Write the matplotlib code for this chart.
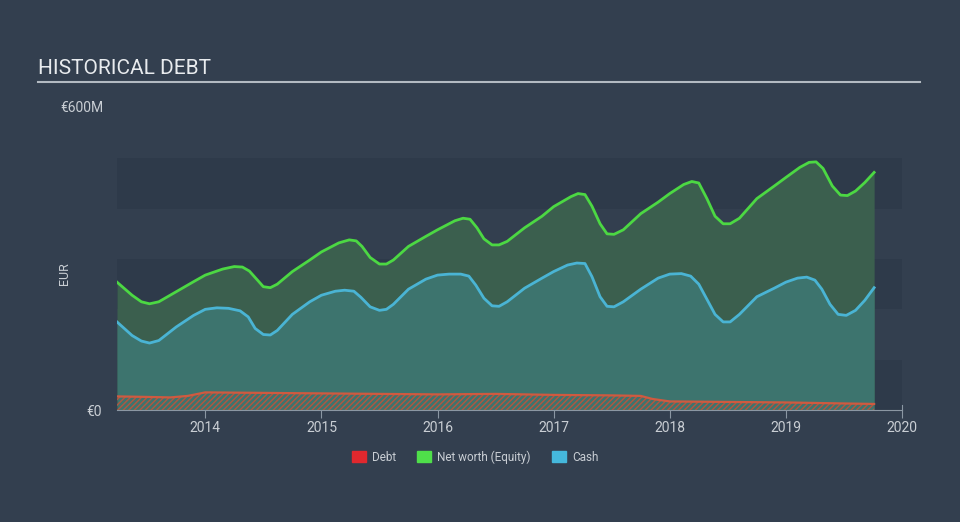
import numpy as np
import matplotlib
matplotlib.use("Agg")
import matplotlib.pyplot as plt
from matplotlib.patches import Patch

plt.rcParams['font.family'] = ['Roboto', 'DejaVu Sans']

# decimal years and values in EUR millions
eq_t = [2013.24, 2013.37, 2013.45, 2013.52, 2013.6, 2013.75, 2013.9, 2014.0, 2014.15, 2014.25,
        2014.32, 2014.38, 2014.45, 2014.5, 2014.56, 2014.62, 2014.75, 2014.9, 2015.0, 2015.15,
        2015.24, 2015.3, 2015.35, 2015.42, 2015.5, 2015.56, 2015.62, 2015.75, 2015.9, 2016.0,
        2016.15, 2016.22, 2016.28, 2016.34, 2016.4, 2016.47, 2016.53, 2016.6, 2016.75, 2016.9,
        2017.0, 2017.15, 2017.21, 2017.27, 2017.33, 2017.4, 2017.46, 2017.52, 2017.6, 2017.75,
        2017.9, 2018.0, 2018.12, 2018.19, 2018.25, 2018.32, 2018.39, 2018.46, 2018.52, 2018.6,
        2018.75, 2018.9, 2019.0, 2019.12, 2019.2, 2019.26, 2019.32, 2019.4, 2019.47, 2019.53,
        2019.6, 2019.68, 2019.76]
equity = [254, 228, 215, 211, 215, 235, 255, 268, 280, 285,
          284, 276, 258, 245, 243, 250, 275, 298, 314, 332,
          338, 336, 325, 303, 290, 290, 298, 325, 345, 358,
          376, 381, 379, 362, 340, 328, 328, 335, 362, 385,
          404, 424, 430, 428, 405, 370, 350, 349, 358, 390,
          413, 430, 448, 454, 451, 420, 385, 370, 370, 381,
          420, 445, 462, 482, 492, 493, 480, 445, 427, 426,
          435, 452, 472]

cash_t = [2013.24, 2013.37, 2013.45, 2013.52, 2013.6, 2013.75, 2013.9, 2014.0, 2014.1, 2014.2,
          2014.3, 2014.37, 2014.43, 2014.5, 2014.56, 2014.62, 2014.75, 2014.9, 2015.0, 2015.12,
          2015.2, 2015.28, 2015.34, 2015.42, 2015.5, 2015.56, 2015.62, 2015.75, 2015.9, 2016.0,
          2016.1, 2016.2, 2016.27, 2016.33, 2016.4, 2016.47, 2016.53, 2016.6, 2016.75, 2016.9,
          2017.0, 2017.12, 2017.2, 2017.27, 2017.33, 2017.4, 2017.46, 2017.52, 2017.6, 2017.75,
          2017.9, 2018.0, 2018.1, 2018.18, 2018.25, 2018.32, 2018.39, 2018.46, 2018.52, 2018.6,
          2018.75, 2018.9, 2019.0, 2019.1, 2019.18, 2019.25, 2019.31, 2019.38, 2019.45, 2019.52,
          2019.6, 2019.68, 2019.76]
cash = [175, 148, 137, 133, 138, 165, 188, 200, 203, 202,
        197, 185, 162, 150, 149, 158, 190, 215, 228, 236,
        238, 236, 224, 205, 198, 200, 210, 240, 260, 268,
        270, 270, 266, 248, 222, 207, 206, 215, 242, 262,
        275, 288, 292, 291, 265, 225, 206, 205, 215, 240,
        262, 270, 271, 266, 250, 220, 190, 175, 175, 190,
        225, 242, 254, 262, 264, 258, 240, 210, 190, 188,
        198, 218, 243]

debt_t = [2013.24, 2013.5, 2013.7, 2013.85, 2014.0, 2014.5, 2015.0, 2015.5, 2016.0, 2016.5,
          2017.0, 2017.5, 2017.75, 2017.85, 2018.0, 2018.5, 2019.0, 2019.5, 2019.76]
debt = [27, 26, 25, 28, 35, 34, 33, 32, 31, 32,
        30, 29, 28, 22, 17, 16, 15, 13, 12]

years = [2014, 2015, 2016, 2017, 2018, 2019, 2020]

bg = '#333f4f'
band_dark = '#2e3a4a'
txt = '#c9ced4'

fig = plt.figure(figsize=(9.6, 5.22), dpi=100, facecolor=bg)
ax = fig.add_axes([117/960, 1 - 410/522, (902-117)/960, (410-108)/522])
ax.set_facecolor(bg)

# background bands
for lo in (0, 200, 400):
    ax.axhspan(lo, lo + 100, color=band_dark, zorder=0, lw=0)

ax.fill_between(eq_t, equity, color='#3b5f4e', zorder=1, lw=0)
ax.plot(eq_t, equity, color='#4cd843', lw=2, zorder=4, solid_joinstyle='round')
ax.fill_between(cash_t, cash, color='#3d746e', zorder=2, lw=0)
ax.plot(cash_t, cash, color='#4ab4d4', lw=2, zorder=4, solid_joinstyle='round')
ax.fill_between(debt_t, debt, facecolor='none', edgecolor='#b5563f', hatch='//////',
                lw=0, zorder=3)
ax.plot(debt_t, debt, color='#cf5a40', lw=1.6, zorder=4)

ax.set_xlim(2013.24, 2020)
ax.set_ylim(0, 600)
ax.set_xticks(years)
ax.set_xticklabels([str(y) for y in years], color=txt, fontsize=10)
ax.set_yticks([0])
ax.set_yticklabels(['€0'], color=txt, fontsize=10)
ax.tick_params(axis='y', length=0, pad=11)
ax.tick_params(axis='x', length=6, color='#8b97a3', pad=2)
for s in ('top', 'left'):
    ax.spines[s].set_visible(False)
ax.spines['bottom'].set_color('#8b97a3')
ax.spines['right'].set_color('#8b97a3')
ax.spines['right'].set_bounds(0, 10)
ax.set_ylabel('EUR', color=txt, fontsize=9)
ax.yaxis.set_label_coords(-0.058, 0.45)

# top axis label sits left-aligned above the plot
fig.text(60/960, 1 - 108/522, '€600M', color=txt, fontsize=10, ha='left', va='center')

# title with underline
fig.text(38/960, 1 - 69/522, 'HISTORICAL DEBT', color='#e8ebee', fontsize=15,
         va='center', ha='left')
fig.add_artist(plt.Line2D([38/960, 920/960], [1 - 82/522, 1 - 82/522],
                          color='#b3bac2', lw=1.5))

handles = [Patch(color='#e0282e', label='Debt'),
           Patch(color='#4fdf4a', label='Net worth (Equity)'),
           Patch(color='#45b8dc', label='Cash')]
fig.legend(handles=handles, loc='center', bbox_to_anchor=(475/960, 1 - 457/522),
           ncol=3, frameon=False, fontsize=8.5, labelcolor=txt, handlelength=1.2,
           handleheight=1.0, columnspacing=1.8, handletextpad=0.5)

fig.savefig('out.png', dpi=100, facecolor=bg)
